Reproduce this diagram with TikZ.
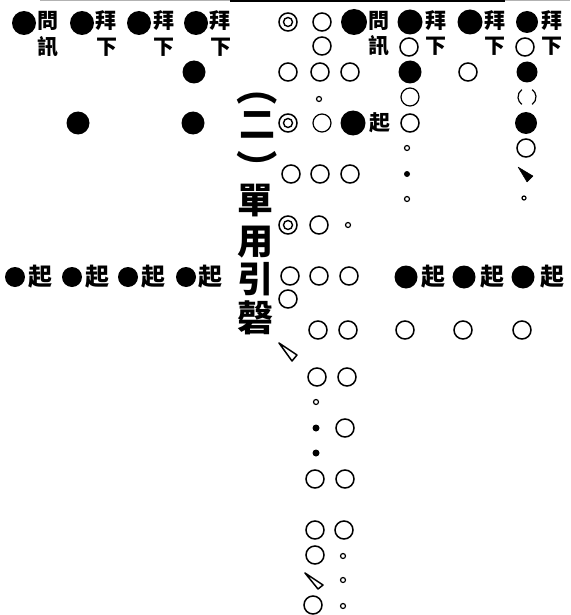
\documentclass[tikz,border=0pt]{standalone}
\usepackage{fontspec}
\usepackage{graphicx}
\newfontfamily\cjk{Noto Sans CJK TC}
\begin{document}
\begin{tikzpicture}[x=1pt,y=-1pt,
  fc/.style={circle,fill=black,inner sep=0pt,minimum size=24pt},
  oc/.style={circle,draw=black,line width=1.5pt,inner sep=0pt,minimum size=18pt},
  dc/.style={oc,path picture={\draw[line width=1.4pt] (path picture bounding box.center) circle (4.5pt);}},
  sc/.style={circle,draw=black,line width=1.2pt,inner sep=0pt,minimum size=5pt},
  sd/.style={circle,fill=black,inner sep=0pt,minimum size=7pt},
  zi/.style={font=\cjk\bfseries\fontsize{21}{21}\selectfont,inner sep=0pt},
  qi/.style={font=\cjk\bfseries\fontsize{24}{24}\selectfont,inner sep=0pt},
  big/.style={font=\cjk\bfseries\fontsize{36}{36}\selectfont,inner sep=0pt},
  paren/.style={font=\cjk\bfseries\fontsize{36}{36}\selectfont,inner sep=0pt},
  wedgefill/.style={fill=black,line join=round},
  wedgeline/.style={draw=black,line width=1.5pt,line join=round}]
\useasboundingbox (0,0) rectangle (570,615);
% top edge fragments
\draw[gray!60,line width=1pt] (40,1) -- (230,1);
\draw[line width=1.5pt] (230,1) -- (505,1);
\draw[gray!60,line width=1pt] (505,1) -- (570,1);
% ---------- left block ----------
\node[fc] (a1) at (24,23) {};
\node[zi] (a1t) at (48,21) {問};
\node[zi] (a1b) at (48,47) {訊};
\node[fc] (a2) at (82,23) {};
\node[zi] (a2t) at (106,21) {拜};
\node[zi] (a2b) at (107,47) {下};
\node[fc] (a3) at (139,23) {};
\node[zi] (a3t) at (164,21) {拜};
\node[zi] (a3b) at (164,47) {下};
\node[fc] (a4) at (196,23) {};
\node[zi] (a4t) at (220,21) {拜};
\node[zi] (a4b) at (221,47) {下};
\node[fc,minimum size=23pt] (a5) at (194,72) {};
\node[fc,minimum size=23pt] (a6) at (78,123) {};
\node[fc,minimum size=23pt] (a7) at (193,123) {};
% title
\node[paren] (p1) at (257,99) {\scalebox{1.15}[1]{︵}};
\node[big] (p2) at (257,125) {二};
\node[paren] (p3) at (257,166) {\scalebox{1.15}[1]{︶}};
\node[big] (t1) at (255,201) {單};
\node[big] (t2) at (255,242) {用};
\node[big] (t3) at (255,279) {引};
\node[big] (t4) at (255,318) {磬};
% row of qi
\node[fc,minimum size=20pt] (q1) at (15,277) {};
\node[qi] (q1t) at (40,277) {起};
\node[fc,minimum size=20pt] (q2) at (72,277) {};
\node[qi] (q2t) at (97,277) {起};
\node[fc,minimum size=20pt] (q3) at (128,277) {};
\node[qi] (q3t) at (153,277) {起};
\node[fc,minimum size=20pt] (q4) at (186,277) {};
\node[qi] (q4t) at (210,277) {起};
% ---------- right block ----------
% row 22
\node[dc] (r1) at (288,22) {};
\node[oc] (r2) at (322,22) {};
\node[fc,minimum size=26pt] (r3) at (354,22) {};
\node[zi] (r3t) at (379,21) {問};
\node[fc,minimum size=25pt] (r4) at (410,22) {};
\node[zi] (r4t) at (436,21) {拜};
\node[fc,minimum size=25pt] (r5) at (470,22) {};
\node[zi] (r5t) at (495,21) {拜};
\node[fc,minimum size=22pt] (r6) at (527,22) {};
\node[zi] (r6t) at (552,21) {拜};
% row 46
\node[oc] (s1) at (322,46) {};
\node[zi] (s2) at (379,46) {訊};
\node[oc] (s3) at (409,47) {};
\node[zi] (s4) at (436,46) {下};
\node[zi] (s5) at (495,46) {下};
\node[oc] (s6) at (525,47) {};
\node[zi] (s7) at (552,46) {下};
% row 72
\node[oc] (u1) at (288,72) {};
\node[oc] (u2) at (320,72) {};
\node[oc] (u3) at (350,72) {};
\node[fc,minimum size=23pt] (u4) at (410,72) {};
\node[oc] (u5) at (468,72) {};
\node[fc,minimum size=21pt] (u6) at (527,72) {};
% row 97
\node[sc] (v1) at (319,99) {};
\node[oc,line width=1.2pt] (v2) at (410,97) {};
\node[inner sep=0pt,minimum size=18pt] (v3) at (527,97) {};
\draw[line width=1.2pt] ([shift={(125:9pt)}]v3.center) arc (125:235:9pt);
\draw[line width=1.2pt] ([shift={(-55:9pt)}]v3.center) arc (-55:55:9pt);
% row 123
\node[dc] (w1) at (288,123) {};
\node[oc,line width=1.2pt] (w2) at (322,123) {};
\node[fc,minimum size=25pt] (w3) at (353,123) {};
\node[zi] (w3t) at (380,123) {起};
\node[oc] (w4) at (410,123) {};
\node[fc,minimum size=22pt] (w5) at (526,123) {};
% row 148
\node[sc] (x1) at (407,148) {};
\node[oc] (x2) at (526,148) {};
% row 174
\node[oc] (y1) at (291,174) {};
\node[oc] (y2) at (320,174) {};
\node[oc] (y3) at (350,174) {};
\node[sd,minimum size=6pt] (y4) at (407,174) {};
\draw[wedgefill] (518,167) -- (533,176) -- (527,182) -- cycle;
% row 199
\node[sc] (z1) at (407,199) {};
\node[sc,minimum size=4pt] (z2) at (524,198) {};
% row 225
\node[dc] (k1) at (288,225) {};
\node[oc] (k2) at (319,225) {};
\node[sc] (k3) at (348,225) {};
% row 277
\node[oc] (m1) at (290,276) {};
\node[oc] (m2) at (319,276) {};
\node[oc] (m3) at (349,276) {};
\node[fc,minimum size=23pt] (m4) at (406,277) {};
\node[qi] (m4t) at (433,277) {起};
\node[fc,minimum size=23pt] (m5) at (464,277) {};
\node[qi] (m5t) at (492,277) {起};
\node[fc,minimum size=23pt] (m6) at (523,277) {};
\node[qi] (m6t) at (552,277) {起};
\node[oc] (m7) at (288,299) {};
% row 330
\node[oc] (n1) at (318,330) {};
\node[oc] (n2) at (348,330) {};
\node[oc] (n3) at (405,330) {};
\node[oc] (n4) at (463,330) {};
\node[oc] (n5) at (522,330) {};
\draw[wedgeline] (279,343) -- (297,355) -- (292,361) -- cycle;
% lower column
\node[oc] (o1) at (317,377) {};
\node[oc] (o2) at (347,377) {};
\node[sc] (o3) at (316,402) {};
\node[sd] (o4) at (316,428) {};
\node[oc] (o5) at (345,428) {};
\node[sd] (o6) at (316,453) {};
\node[oc] (o7) at (315,479) {};
\node[oc] (o8) at (345,479) {};
\node[oc] (o9) at (315,530) {};
\node[oc] (o10) at (344,530) {};
\node[oc] (o11) at (315,555) {};
\node[sc] (o12) at (343,556) {};
\draw[wedgeline] (305,573) -- (323,585) -- (318,589) -- cycle;
\node[sc] (o13) at (343,580) {};
\node[oc] (o14) at (313,605) {};
\node[sc] (o15) at (343,606) {};
\end{tikzpicture}
\end{document}
